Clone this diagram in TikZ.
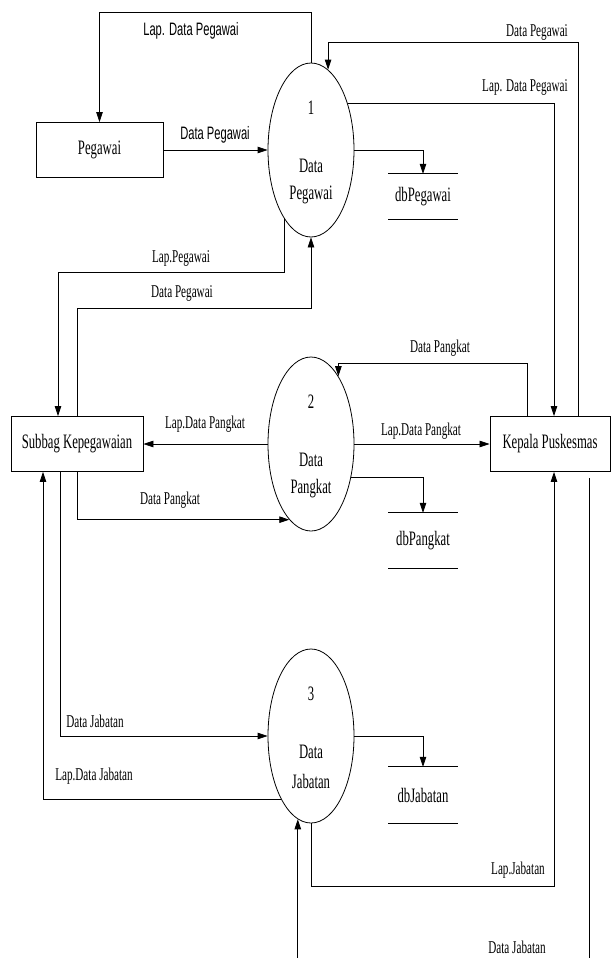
\documentclass[tikz,border=0pt]{standalone}
\usepackage{fontspec}
\setmainfont{Liberation Serif}[FakeStretch=0.62]
\newfontfamily\labelsans{Liberation Sans}[FakeStretch=0.62]
\usetikzlibrary{arrows.meta,shapes.geometric}

\begin{document}
\begin{tikzpicture}[
	x=1pt,
	y=-1pt,
	entitybox/.style={
		rectangle,
		draw=black,
		line width=0.9pt,
		minimum height=55pt,
		inner sep=0pt,
		font=\fontsize{20.5}{23}\selectfont
	},
	procellipse/.style={
		ellipse,
		draw=black,
		line width=0.8pt,
		minimum width=86pt,
		minimum height=174pt,
		inner sep=0pt
	},
	proctext/.style={
		inner sep=0pt,
		font=\fontsize{20.5}{23}\selectfont
	},
	storebox/.style={
		rectangle,
		minimum width=69pt,
		inner sep=0pt,
		font=\fontsize{20.5}{23}\selectfont
	},
	storeline/.style={
		draw=black,
		line width=0.9pt
	},
	flow/.style={
		draw=black,
		line width=0.8pt,
		-{Triangle[length=10pt,width=6.5pt]}
	},
	flowlabel/.style={
		inner sep=0pt,
		font=\fontsize{18}{20}\selectfont
	},
	sanslabel/.style={
		inner sep=0pt,
		font=\labelsans\fontsize{18}{20}\selectfont
	}
]

\useasboundingbox (0,0) rectangle (611,958);

% external entities
\node[entitybox, minimum width=127pt] (pegawai) at (99.5,150) {Pegawai};
\node[entitybox, minimum width=132pt] (subbag) at (77,444) {Subbag Kepegawaian};
\node[entitybox, minimum width=120pt] (kepala) at (550,444) {Kepala Puskesmas};

% processes
\foreach \n/\cy/\txt in {1/150/Pegawai, 2/444/Pangkat, 3/736/Jabatan} {
	\node[procellipse] (p\n) at (311,\cy) {};
	\node[proctext] (p\n-num) at ([yshift=42pt]p\n.center) {\n};
	\node[proctext] (p\n-data) at ([yshift=-16pt]p\n.center) {Data};
	\node[proctext] (p\n-name) at ([yshift=-45pt]p\n.center) {\txt};
}

% data stores
\foreach \nm/\cy/\h/\txt in {db1/196.5/45/dbPegawai, db2/540.5/55/dbPangkat, db3/795/56/dbJabatan} {
	\node[storebox, minimum height=\h pt] (\nm) at (423,\cy) {\txt};
	\draw[storeline] (\nm.north west) -- (\nm.north east) (\nm.south west) -- (\nm.south east);
}

% flows of process 1
\draw[flow] (p1.north) -- ++(0,-50) -| (pegawai.north);
\draw[flow] (pegawai.east) -- (p1.west);
\draw[flow] ([xshift=28pt]kepala.north) |- ([yshift=27pt]p1.78) -- (p1.78);
\draw[flow] (p1.52) -| ([xshift=4pt]kepala.north);
\draw[flow] (p1.east) -| (db1.north);
\draw[flow] (p1.-111) -- ++(0,53) -| ([xshift=-19pt]subbag.north);
\draw[flow] (subbag.north) -- ++(0,-108) -| (p1.south);

% flows of process 2
\draw[flow] ([xshift=-23pt]kepala.north) -- ++(0,-53) -| (p2.68);
\draw[flow] (p2.west) -- (subbag.east);
\draw[flow] (p2.east) -- (kepala.west);
\draw[flow] (subbag.south) |- (p2.-106);
\draw[flow] (p2.-40) -| (db2.north);

% flows of process 3
\draw[flow] ([xshift=-17pt]subbag.south) |- (p3.west);
\draw[flow] (p3.-115) -| ([xshift=-34pt]subbag.south);
\draw[flow] (p3.east) -| (db3.north);
\draw[flow] (p3.south) -- ++(0,63) -| ([xshift=4pt]kepala.south);
\coordinate (jabin) at (298,958);
\draw[flow] (p3.-99 |- jabin) -- (p3.-99);
\coordinate (jabout) at (589,958);
\draw[line width=0.8pt] ([xshift=39pt,yshift=-6pt]kepala.south) -- (jabout);

% labels
\node[sanslabel] (lbl-a) at (191,31) {Lap. Data Pegawai};
\node[sanslabel] (lbl-b) at (215,135) {Data Pegawai};
\foreach \lx/\ly/\txt [count=\i] in {
	537/32/Data Pegawai,
	525/87/Lap. Data Pegawai,
	181/258/Lap.Pegawai,
	182/293/Data Pegawai,
	440/348/Data Pangkat,
	205/424/Lap.Data Pangkat,
	421/431/Lap.Data Pangkat,
	170/500/Data Pangkat,
	95/721/Data Jabatan,
	94/776/Lap.Data Jabatan,
	518/870/Lap.Jabatan,
	517/947/Data Jabatan%
} {
	\node[flowlabel] (lbl\i) at (\lx,\ly) {\txt};
}

\end{tikzpicture}
\end{document}
